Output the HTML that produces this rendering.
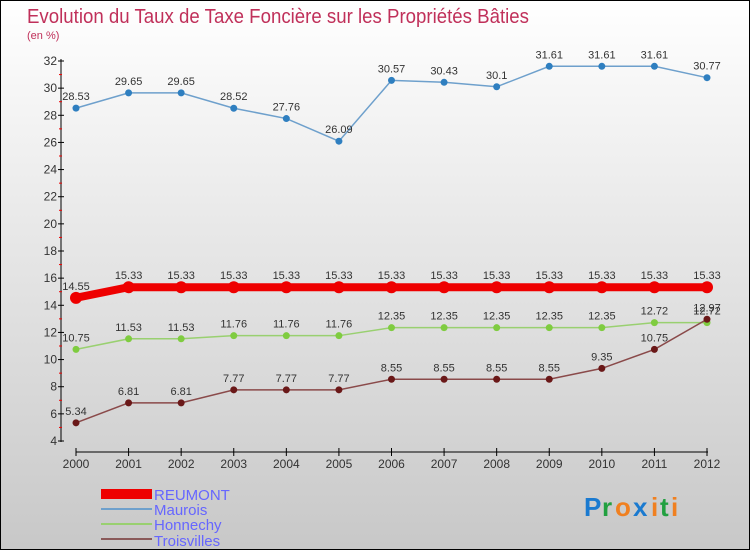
<!DOCTYPE html>
<html><head><meta charset="utf-8"><style>
body{margin:0;}
#c{width:748px;height:548px;border:1px solid #000;background:linear-gradient(#ffffff,#c8c8c8);position:relative;font-family:"Liberation Sans",sans-serif;overflow:hidden}
</style></head><body>
<div id="c">
<svg id="s" width="748" height="548" style="position:absolute;left:0;top:0">
<text x="26" y="22" font-size="20" fill="#c0305a" textLength="502" lengthAdjust="spacingAndGlyphs">Evolution du Taux de Taxe Foncière sur les Propriétés Bâties</text>
<text x="26" y="38" font-size="11" fill="#c0305a">(en %)</text>
<g id="axes"></g><g id="series"></g>
<g>
<rect x="100" y="488" width="51" height="10" fill="#e00"/>
<text x="153" y="499" font-size="15" fill="#6666ff">REUMONT</text>
<line x1="100" y1="508" x2="151" y2="508" stroke="#6ea0cc" stroke-width="2"/>
<text x="153" y="514" font-size="15" fill="#6666ff">Maurois</text>
<line x1="100" y1="523" x2="151" y2="523" stroke="#99d070" stroke-width="2"/>
<text x="153" y="529" font-size="15" fill="#6666ff">Honnechy</text>
<line x1="100" y1="538" x2="151" y2="538" stroke="#8a5a5a" stroke-width="2"/>
<text x="153" y="545" font-size="15" fill="#6666ff">Troisvilles</text>
</g>
<g font-size="26" font-weight="bold">
<text x="583" y="515" fill="#1a7ad0">P</text><text x="601" y="515" fill="#22a040">r</text><text x="614" y="515" fill="#f08020">o</text><text x="632" y="515" fill="#1a7ad0">x</text><text x="650" y="515" fill="#f08020">i</text><text x="659" y="515" fill="#22a040">t</text><text x="670" y="515" fill="#f08020">i</text>
</g>
</svg></div>
<script>
const years=[2000,2001,2002,2003,2004,2005,2006,2007,2008,2009,2010,2011,2012];
const reumont=[14.55,15.33,15.33,15.33,15.33,15.33,15.33,15.33,15.33,15.33,15.33,15.33,15.33];
const maurois=[28.53,29.65,29.65,28.52,27.76,26.09,30.57,30.43,30.1,31.61,31.61,31.61,30.77];
const honnechy=[10.75,11.53,11.53,11.76,11.76,11.76,12.35,12.35,12.35,12.35,12.35,12.72,12.72];
const troisvilles=[5.34,6.81,6.81,7.77,7.77,7.77,8.55,8.55,8.55,8.55,9.35,10.75,12.97];
const yTicks=[4,6,8,10,12,14,16,18,20,22,24,26,28,30,32];
const NS="http://www.w3.org/2000/svg";
const X=i=>75+i*(631/12), Y=v=>440-(v-4)*(380/28);
function mk(t,a,p){const e=document.createElementNS(NS,t);for(const k in a)e.setAttribute(k,a[k]);p.appendChild(e);return e;}
const ax=document.getElementById('axes'),sg=document.getElementById('series');
let l=mk('line',{x1:60,y1:58,x2:60,y2:441,stroke:'#000'},ax);

l=mk('line',{x1:75,y1:451,x2:707,y2:451,stroke:'#000'},ax);

yTicks.forEach(v=>{const y=Y(v);mk('line',{x1:57,y1:y,x2:63,y2:y,stroke:'#000'},ax);
 if(v<32)mk('line',{x1:58,y1:Y(v+1),x2:61,y2:Y(v+1),stroke:'#e00'},ax);
 const t=mk('text',{x:56,y:y+4,'font-size':12,'text-anchor':'end',fill:'#333'},ax);t.textContent=v;
 });
years.forEach((yr,i)=>{mk('line',{x1:X(i),y1:447,x2:X(i),y2:455,stroke:'#000'},ax);
 const t=mk('text',{x:X(i),y:467,'font-size':12,'text-anchor':'middle',fill:'#333'},ax);t.textContent=yr;
 });
function series(d,col,w,r,dot,name){
 const p=mk('polyline',{points:d.map((v,i)=>X(i)+','+Y(v)).join(' '),fill:'none',stroke:col,'stroke-width':w},sg);
 
 d.forEach((v,i)=>{const c=mk('circle',{cx:X(i),cy:Y(v),r:r,fill:dot},sg);
  
  const t=mk('text',{x:X(i),y:Y(v)-8,'font-size':11,'text-anchor':'middle',fill:'#333'},sg);t.textContent=v;
  });
}
series(maurois,'#6ea0cc',1.5,3.5,'#2f7fc0','maurois');
series(honnechy,'#99d070',1.5,3.5,'#7fcc40','honnechy');
series(troisvilles,'#8a4a4a',1.5,3.5,'#6a1818','troisvilles');
series(reumont,'#ee0000',8,6,'#ee0000','reumont');
</script></body></html>
